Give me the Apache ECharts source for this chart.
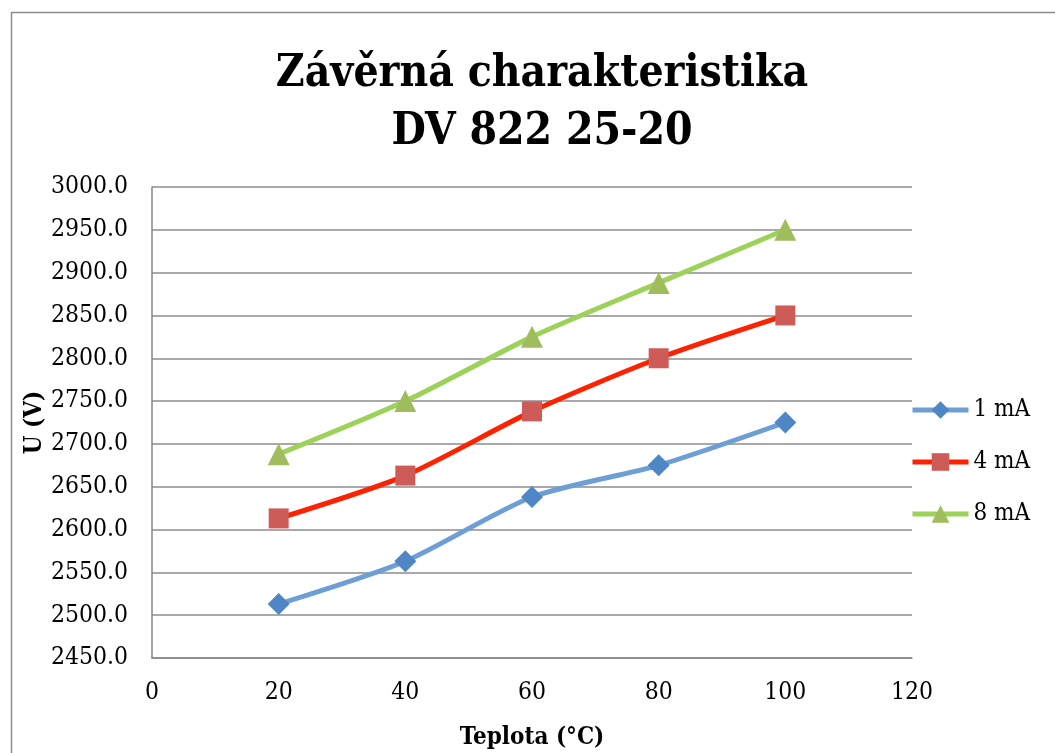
<!DOCTYPE html>
<html><head><meta charset="utf-8">
<script src="https://cdn.jsdelivr.net/npm/echarts@6/dist/echarts.min.js"></script>
<style>html,body{margin:0;padding:0;background:#fff}#c{width:1055px;height:753px}</style>
</head><body><div id="c"></div>
<script>
const temps = [20, 40, 60, 80, 100];
const s1mA = [2513, 2563, 2638, 2675, 2725];
const s4mA = [2613, 2663, 2738, 2800, 2850];
const s8mA = [2688, 2750, 2825, 2888, 2950];
const seriesNames = ['1 mA', '4 mA', '8 mA'];
const FONT = '"DejaVu Serif Condensed", "DejaVu Serif", serif';
const chart = echarts.init(document.getElementById('c'));
function mk(name, vals, lineColor, markColor, symbol, size) {
  return {
    name: name, type: 'line', smooth: 0.25,
    data: temps.map((t, i) => [t, vals[i]]),
    symbol: symbol, symbolSize: size,
    lineStyle: {color: lineColor, width: 5},
    itemStyle: {color: markColor},
    emphasis: {disabled: true}
  };
}
chart.setOption({
  animation: false,
  backgroundColor: '#fff',
  graphic: [{type: 'rect', shape: {x: 11.5, y: 12.5, width: 1100, height: 800}, style: {fill: null, stroke: '#8c8c8c', lineWidth: 1.5}, silent: true}],
  title: {
    text: 'Závěrná charakteristika\nDV 822 25-20',
    left: 537, top: 41, textAlign: 'center',
    textStyle: {fontFamily: FONT, fontWeight: 'bold', fontSize: 44, lineHeight: 58, color: '#000'}
  },
  legend: {
    orient: 'vertical', left: 905, top: 393, itemGap: 28,
    itemWidth: 56, itemHeight: 22,
    lineStyle: {width: 5},
    data: seriesNames,
    textStyle: {fontFamily: FONT, fontSize: 24, color: '#000'}
  },
  grid: {left: 152, top: 187, width: 760, height: 471, containLabel: false, outerBoundsMode: 'none'},
  xAxis: {
    type: 'value', min: 0, max: 120, interval: 20,
    name: 'Teplota (°C)', nameLocation: 'middle', nameGap: 68, nameMoveOverlap: false,
    nameTextStyle: {fontFamily: FONT, fontWeight: 'bold', fontSize: 24, color: '#000'},
    axisLine: {show: true, lineStyle: {color: '#868686', width: 1.5}},
    axisTick: {show: false},
    splitLine: {show: false},
    axisLabel: {fontFamily: FONT, fontSize: 24.5, color: '#000', margin: 22}
  },
  yAxis: {
    type: 'value', min: 2450, max: 3000, interval: 50,
    name: 'U (V)', nameLocation: 'middle', nameGap: 105, nameRotate: 90, nameMoveOverlap: false,
    nameTextStyle: {fontFamily: FONT, fontWeight: 'bold', fontSize: 24, color: '#000'},
    axisLine: {show: true, lineStyle: {color: '#868686', width: 1.5}},
    axisTick: {show: false},
    splitLine: {show: true, lineStyle: {color: '#8c8c8c', width: 1.5}},
    axisLabel: {fontFamily: FONT, fontSize: 24.5, color: '#000', margin: 24, formatter: v => v.toFixed(1)}
  },
  series: [
    mk(seriesNames[0], s1mA, '#6d9fd5', '#4f86c6', 'diamond', 22),
    mk(seriesNames[1], s4mA, '#ff2200', '#cd5c58', 'rect', 20),
    mk(seriesNames[2], s8mA, '#9dd25a', '#9fbd5c', 'triangle', 22)
  ]
});
</script></body></html>
